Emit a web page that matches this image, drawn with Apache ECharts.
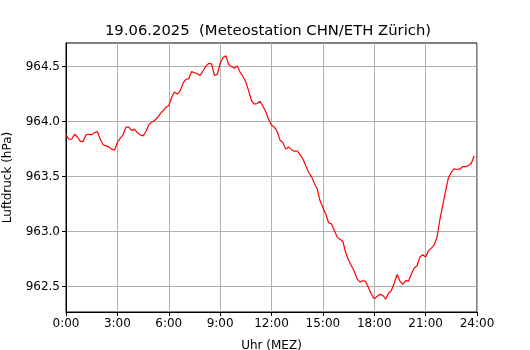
<!DOCTYPE html>
<html>
<head>
<meta charset="utf-8">
<script src="https://cdn.jsdelivr.net/npm/echarts@6/dist/echarts.min.js"></script>
<style>html,body{margin:0;padding:0;background:#fff}#c{width:530px;height:350px}</style>
</head>
<body>
<div id="c"></div>
<script>
const titleText = '19.06.2025  (Meteostation CHN/ETH Zürich)';
const xTickValues = [0, 180, 360, 540, 720, 900, 1080, 1260, 1440];
const xTickLabels = ['0:00', '3:00', '6:00', '9:00', '12:00', '15:00', '18:00', '21:00', '24:00'];
const yTickValues = [962.5, 963.0, 963.5, 964.0, 964.5];
const stepMinutes = 10;
const pressure = [
  963.88, 963.84, 963.84, 963.885, 963.86, 963.82, 963.82, 963.88, 963.885, 963.88,
  963.90, 963.91, 963.84, 963.79, 963.78, 963.77, 963.75, 963.74, 963.81, 963.85,
  963.88, 963.95, 963.95, 963.92, 963.93, 963.90, 963.88, 963.87, 963.91, 963.97,
  963.995, 964.01, 964.035, 964.07, 964.10, 964.13, 964.145, 964.22, 964.27, 964.25,
  964.28, 964.35, 964.385, 964.39, 964.455, 964.445, 964.435, 964.42, 964.46, 964.505,
  964.53, 964.525, 964.42, 964.43, 964.53, 964.58, 964.60, 964.52, 964.50, 964.485,
  964.505, 964.45, 964.41, 964.36, 964.28, 964.19, 964.16, 964.165, 964.185, 964.14,
  964.09, 964.02, 963.97, 963.95, 963.91, 963.83, 963.81, 963.75, 963.77, 963.745,
  963.73, 963.735, 963.70, 963.66, 963.60, 963.54, 963.50, 963.44, 963.39, 963.28,
  963.22, 963.16, 963.08, 963.07, 963.01, 962.95, 962.93, 962.91, 962.81, 962.74,
  962.69, 962.64, 962.57, 962.54, 962.555, 962.545, 962.49, 962.43, 962.39, 962.41,
  962.43, 962.42, 962.385, 962.44, 962.465, 962.53, 962.61, 962.55, 962.52, 962.555,
  962.55, 962.615, 962.67, 962.69, 962.77, 962.79, 962.77, 962.825, 962.85, 962.88,
  962.95, 963.11, 963.24, 963.37, 963.49, 963.54, 963.57, 963.565, 963.57, 963.59,
  963.59, 963.60, 963.62, 963.69
];

const seriesData = pressure.map((v, i) => [i * stepMinutes, v]);
const font = 'DejaVu Sans';
const chart = echarts.init(document.getElementById('c'), null, {renderer: 'canvas'});
chart.setOption({
  animation: false,
  backgroundColor: '#ffffff',
  title: {
    text: titleText, left: 263, top: 19, textAlign: 'center',
    textStyle: {fontFamily: font, fontSize: 14.8, fontWeight: 'normal', color: '#000'}
  },
  grid: {left: 66, right: 53, top: 43, bottom: 38, show: true, borderColor: '#000', borderWidth: 1,
    backgroundColor: 'transparent', containLabel: false, outerBoundsMode: 'none'},
  xAxis: {
    type: 'value', min: 0, max: 1440,
    name: 'Uhr (MEZ)', nameLocation: 'middle', nameGap: 28,
    nameTextStyle: {fontFamily: font, fontSize: 12, color: '#000'},
    axisLine: {show: true, lineStyle: {color: '#000', width: 1}},
    axisTick: {show: true, length: 4, lineStyle: {color: '#000'}, customValues: xTickValues},
    axisLabel: {fontFamily: font, fontSize: 12, color: '#000', margin: 6, customValues: xTickValues,
      formatter: v => xTickLabels[xTickValues.indexOf(v)] || ''},
    splitLine: {show: true, lineStyle: {color: '#b0b0b0', width: 1}}
  },
  yAxis: {
    type: 'value', min: 962.269, max: 964.715,
    name: 'Luftdruck (hPa)', nameLocation: 'middle', nameGap: 52, nameRotate: 90,
    nameTextStyle: {fontFamily: font, fontSize: 12, color: '#000'},
    axisLine: {show: true, lineStyle: {color: '#000', width: 1}},
    axisTick: {show: true, length: 4, lineStyle: {color: '#000'}, customValues: yTickValues},
    axisLabel: {fontFamily: font, fontSize: 12, color: '#000', margin: 6, customValues: yTickValues,
      formatter: v => v.toFixed(1)},
    splitLine: {show: true, lineStyle: {color: '#b0b0b0', width: 1}}
  },
  series: [{
    type: 'line', data: seriesData, showSymbol: false, symbol: 'none',
    lineStyle: {color: '#ff0000', width: 1.2}, clip: true
  }]
});
</script>
</body>
</html>
